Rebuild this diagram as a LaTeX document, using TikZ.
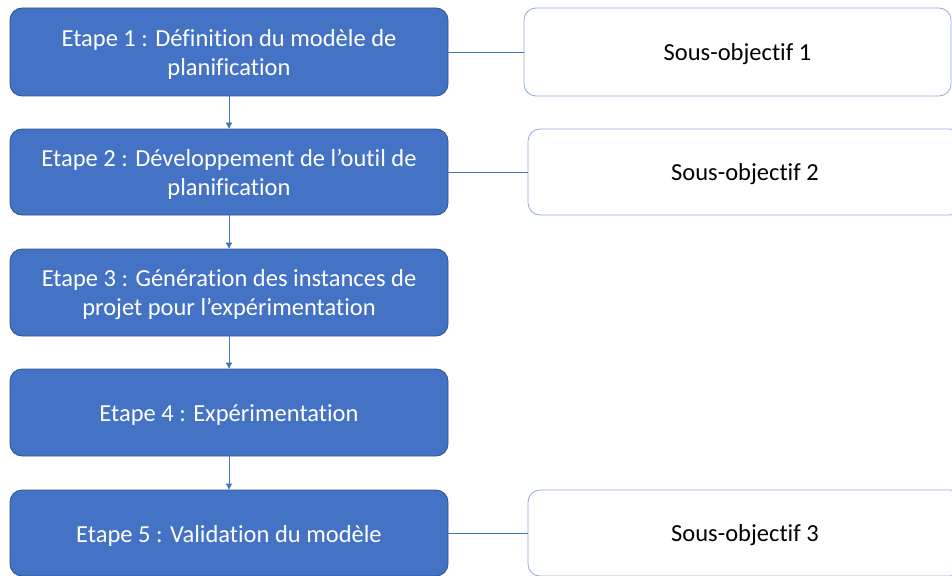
\documentclass[tikz,border=0pt]{standalone}
\usepackage{fontspec}
\setmainfont{Carlito}[Ligatures={NoCommon}]
\usetikzlibrary{arrows.meta}
\definecolor{stepfill}{HTML}{4472C4}
\definecolor{stepedge}{HTML}{2F528F}
\definecolor{goaledge}{HTML}{8FAADC}
\definecolor{linkcol}{HTML}{4472C4}
% tall strut that pushes the first text line a little lower in its box
\newcommand{\toplift}{\rule{0pt}{22pt}}
\tikzset{
  boxtext/.style={align=center, font=\fontsize{24.5}{29}\selectfont, inner sep=0pt},
  stepbox/.style={boxtext, draw=stepedge, line width=0.8pt, fill=stepfill,
    rounded corners=12pt, text=white},
  goalbox/.style={boxtext, draw=goaledge, line width=0.8pt, fill=white,
    rounded corners=12pt, text=black},
  link/.style={draw=linkcol, line width=0.8pt},
  flow/.style={link, -{Triangle[length=6pt,width=6pt]}}
}
\begin{document}
\begin{tikzpicture}[x=1pt,y=-1pt]
\useasboundingbox (0,0) rectangle (952,575);
\clip (0,0) rectangle (952,575);
% steps of the method
\node[stepbox, minimum width=438pt, minimum height=88pt] (e1) at (229,52)
  {\toplift Etape 1 : Définition du modèle de\\planification};
\node[stepbox, minimum width=438pt, minimum height=86pt] (e2) at (229,172)
  {\toplift Etape 2 : Développement de l’outil de\\planification};
\node[stepbox, minimum width=438pt, minimum height=87pt] (e3) at (229,292.5)
  {\toplift Etape 3 : Génération des instances de\\projet pour l’expérimentation};
\node[stepbox, minimum width=438pt, minimum height=87pt] (e4) at (229,412.5)
  {\toplift Etape 4 : Expérimentation};
\node[stepbox, minimum width=438pt, minimum height=86pt] (e5) at (229,533)
  {\toplift Etape 5 : Validation du modèle};
% sub-objectives
\node[goalbox, minimum width=427pt, minimum height=88pt] (o1) at (737.5,52)
  {\toplift Sous-objectif 1};
\node[goalbox, minimum width=434pt, minimum height=86pt] (o2) at (745,172)
  {\toplift Sous-objectif 2};
\node[goalbox, minimum width=434pt, minimum height=86pt] (o3) at (745,533)
  {\toplift Sous-objectif 3};
% flow between steps
\draw[flow] (e1) -- (e2);
\draw[flow] (e2) -- (e3);
\draw[flow] (e3) -- (e4);
\draw[flow] (e4) -- (e5);
% links to sub-objectives
\draw[link] (e1) -- (o1);
\draw[link] (e2) -- (o2);
\draw[link] (e5) -- (o3);
\end{tikzpicture}
\end{document}
